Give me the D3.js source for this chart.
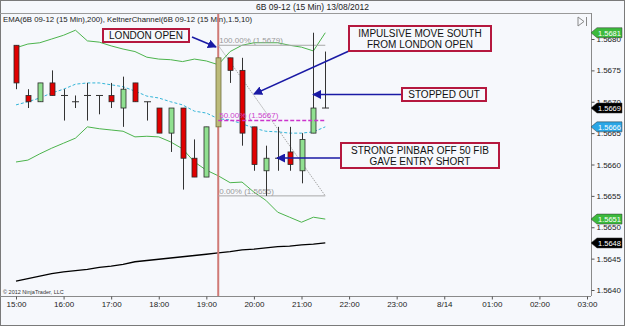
<!DOCTYPE html>
<html><head><meta charset="utf-8">
<script src="https://cdn.jsdelivr.net/npm/d3@7"></script>
<style>
html,body{margin:0;padding:0;background:#f5f7fb;}
svg{display:block;font-family:"Liberation Sans",Arial,sans-serif;}
</style></head>
<body>
<svg id="c" width="625" height="326"></svg>
<script>
// ---- data (15-min bars, 6B 09-12, 13/08/2012) ----
const times = ["15:00","15:15","15:30","15:45","16:00","16:15","16:30","16:45","17:00","17:15","17:30","17:45","18:00","18:15","18:30","18:45","19:00","19:15","19:30","19:45","20:00","20:15","20:30","20:45","21:00","21:15","21:30"];
const open  = [1.5679,1.5671,1.5670,1.5673,1.5671,1.5670,1.5671,1.5671,1.5671,1.5669,1.5673,1.5670,1.5669,1.5665,1.5669,1.5661,1.5658,1.5666,1.5677,1.5675,1.5666,1.5659,1.5661,1.5662,1.5659,1.5665,1.5669];
const high  = [1.5679,1.5672,1.5673,1.5675,1.5672,1.5671,1.5673,1.5671,1.5673,1.5674,1.5673,1.5670,1.5669,1.5669,1.5669,1.5664,1.5666,1.5677,1.5677,1.5677,1.5666,1.5663,1.5666,1.5666,1.5665,1.5681,1.5678];
const low   = [1.5672,1.5669,1.5670,1.5671,1.5667,1.5669,1.5667,1.5668,1.5669,1.5666,1.5670,1.5667,1.5665,1.5662,1.5656,1.5658,1.5658,1.5666,1.5673,1.5663,1.5659,1.5655,1.5659,1.5659,1.5657,1.5665,1.5669];
const close = [1.5673,1.5670,1.5673,1.5671,1.5671,1.5670,1.5671,1.5671,1.5670,1.5672,1.5670,1.5670,1.5665,1.5669,1.5661,1.5658,1.5666,1.5677,1.5675,1.5665,1.5660,1.5661,1.5661,1.5660,1.5664,1.5669,1.5669];
const keltnerUpper = [1.56786,1.56792,1.56794,1.56800,1.56806,1.56814,1.56797,1.56795,1.56789,1.56784,1.56780,1.56771,1.56768,1.56767,1.56764,1.56768,1.56765,1.56759,1.56780,1.56790,1.56794,1.56794,1.56794,1.56790,1.56787,1.56781,1.56810];
const keltnerMid   = [1.56695,1.56700,1.56706,1.56714,1.56720,1.56728,1.56730,1.56730,1.56727,1.56724,1.56717,1.56709,1.56706,1.56700,1.56695,1.56685,1.56682,1.56673,1.56671,1.56665,1.56658,1.56653,1.56652,1.56650,1.56650,1.56652,1.56660];
const keltnerLower = [1.56604,1.56607,1.56617,1.56626,1.56634,1.56642,1.56660,1.56657,1.56655,1.56653,1.56644,1.56645,1.56644,1.56636,1.56625,1.56604,1.56591,1.56582,1.56571,1.56572,1.56556,1.56543,1.56524,1.56516,1.56508,1.56516,1.56513];
const ema200 = [1.56414,1.56418,1.56422,1.56426,1.56429,1.56431,1.56433,1.56436,1.56438,1.56441,1.56445,1.56447,1.56449,1.56451,1.56453,1.56455,1.56457,1.56459,1.56461,1.56464,1.56465,1.56467,1.56469,1.56470,1.56472,1.56473,1.56475];
const highlightBar = "19:15";
const yTicks = [1.5640,1.5645,1.5650,1.5655,1.5660,1.5665,1.5670,1.5675,1.5680];
const xTickLabels = ["15:00","16:00","17:00","18:00","19:00","20:00","21:00","22:00","23:00","8/14","01:00","02:00","03:00"];
const fibHigh = 1.5679, fibLow = 1.5655, fibStart = "19:15", fibEnd = "21:30";
const annotations = [
  {lines:["LONDON OPEN"]},
  {lines:["IMPULSIVE MOVE SOUTH","FROM LONDON OPEN"]},
  {lines:["STOPPED OUT"]},
  {lines:["STRONG PINBAR OFF 50 FIB","GAVE ENTRY SHORT"]}
];

// ---- layout ----
const W=625,H=326, L=1, R=591, T=13, B=296;
const svg=d3.select("#c");
const toDate=s=>{const [h,m]=s.split(":").map(Number);return new Date(2012,7,13,h,m);};
const bars=times.map((t,i)=>({t:toDate(t),lab:t,o:open[i],h:high[i],l:low[i],c:close[i]}));
const x=d3.scaleTime().domain([new Date(2012,7,13,15,0),new Date(2012,7,14,3,0)]).range([16,587]);
const y=d3.scaleLinear().domain([1.5640,1.5680]).range([290,39]);

// background + frames
svg.append("rect").attr("x",0.5).attr("y",0.5).attr("width",W-1).attr("height",H-1).attr("fill","#f6f8fc").attr("stroke","#7a7a7a");
svg.append("line").attr("x1",0).attr("x2",R).attr("y1",T+0.5).attr("y2",T+0.5).attr("stroke","#9a9a9a");
svg.append("line").attr("x1",0).attr("x2",R).attr("y1",B+0.5).attr("y2",B+0.5).attr("stroke","#8a8a8a");
svg.append("line").attr("x1",R+0.5).attr("x2",R+0.5).attr("y1",T).attr("y2",B).attr("stroke","#8a8a8a");

svg.append("text").attr("x",W/2).attr("y",10).attr("text-anchor","middle").attr("font-size",8.5).attr("fill","#222")
  .text("6B 09-12 (15 Min)  13/08/2012");
svg.append("text").attr("x",3).attr("y",22).attr("font-size",7.8).attr("fill","#222")
  .text("EMA(6B 09-12 (15 Min),200), KeltnerChannel(6B 09-12 (15 Min),1.5,10)");

// icon
svg.append("path").attr("d","M578,17 L584,21.5 L578,26 Z").attr("fill","none").attr("stroke","#888");
svg.append("line").attr("x1",586.5).attr("x2",586.5).attr("y1",17).attr("y2",26).attr("stroke","#888");

// y axis
const yAxis=d3.axisRight(y).tickValues(yTicks).tickSize(3).tickFormat(d3.format(".4f"));
const ya=svg.append("g").attr("transform",`translate(${R+0.5},0)`).call(yAxis);
ya.select(".domain").remove();
ya.selectAll("line").attr("stroke","#555");
ya.selectAll("text").attr("font-size",8).attr("fill","#222").attr("x",5).attr("font-family","Liberation Sans, Arial");

// x axis
const xTickDates=xTickLabels.map((s,i)=>new Date(2012,7,13,15+i,0));
const xAxis=d3.axisBottom(x).tickValues(xTickDates).tickSize(3).tickFormat((d,i)=>xTickLabels[i]);
const xa=svg.append("g").attr("transform",`translate(0,${B+0.5})`).call(xAxis);
xa.select(".domain").remove();
xa.selectAll("line").attr("stroke","#555");
xa.selectAll("text").attr("font-size",8).attr("fill","#222").attr("y",5).attr("font-family","Liberation Sans, Arial");

svg.append("text").attr("x",3).attr("y",294).attr("font-size",5.5).attr("fill","#333").text("© 2012 NinjaTrader, LLC");

// plot clip
svg.append("clipPath").attr("id","clip").append("rect").attr("x",L).attr("y",T+1).attr("width",R-L).attr("height",B-T-1);
const g=svg.append("g").attr("clip-path","url(#clip)");

// EMA 200
const line=arr=>d3.line().x((d,i)=>x(bars[i].t)).y(d=>y(d))(arr);
g.append("path").attr("d",line(ema200)).attr("fill","none").attr("stroke","#000").attr("stroke-width",1.3);
// Keltner
g.append("path").attr("d",line(keltnerUpper)).attr("fill","none").attr("stroke","#4cb44c").attr("stroke-width",1);
g.append("path").attr("d",line(keltnerLower)).attr("fill","none").attr("stroke","#4cb44c").attr("stroke-width",1);
g.append("path").attr("d",line(keltnerMid)).attr("fill","none").attr("stroke","#33b5d8").attr("stroke-width",1).attr("stroke-dasharray","3,2");

// London open vertical line
const xLO=x(toDate(highlightBar));
g.append("line").attr("x1",xLO).attr("x2",xLO).attr("y1",T).attr("y2",B).attr("stroke","#d07a76").attr("stroke-width",2);

// fib
const fx1=x(toDate(fibStart)), fx2=x(toDate(fibEnd));
const fibMid=(fibHigh+fibLow)/2;
g.append("line").attr("x1",fx1).attr("x2",fx2).attr("y1",y(fibHigh)).attr("y2",y(fibHigh)).attr("stroke","#a8a8a8");
g.append("line").attr("x1",fx1).attr("x2",fx2).attr("y1",y(fibLow)).attr("y2",y(fibLow)).attr("stroke","#a8a8a8");
g.append("line").attr("x1",fx1).attr("x2",fx2).attr("y1",y(fibHigh)).attr("y2",y(fibLow)).attr("stroke","#a8a8a8").attr("stroke-dasharray","1.5,1");
g.append("text").attr("x",fx1+1).attr("y",y(fibHigh)-2).attr("font-size",8).attr("fill","#999").text(`100.00% (${fibHigh.toFixed(4)})`);
g.append("text").attr("x",fx1+1).attr("y",y(fibLow)-2).attr("font-size",8).attr("fill","#999").text(`0.00% (${fibLow.toFixed(4)})`);

// candles
const bw=5;
bars.forEach(b=>{
  const cx=Math.round(x(b.t))+0.5;
  const gc=g.append("g");
  gc.append("line").attr("x1",cx).attr("x2",cx).attr("y1",y(b.h)).attr("y2",y(b.l)).attr("stroke","#333").attr("stroke-width",1);
  if(Math.abs(b.c-b.o)<1e-7){
    gc.append("line").attr("x1",cx-3.5).attr("x2",cx+3.5).attr("y1",y(b.c)).attr("y2",y(b.c)).attr("stroke","#333");
  } else {
    const hl=b.lab===highlightBar;
    const up=b.c>b.o;
    gc.append("rect").attr("x",cx-bw/2).attr("width",bw)
      .attr("y",y(Math.max(b.o,b.c))).attr("height",Math.abs(y(b.o)-y(b.c)))
      .attr("fill",hl?"#bcbb7a":(up?"#90e090":"#e00000")).attr("stroke",hl?"#6f6e3c":"#2a2a2a").attr("stroke-width",0.8);
  }
});

// 50% fib line on top
g.append("line").attr("x1",fx1).attr("x2",fx2).attr("y1",y(fibMid)).attr("y2",y(fibMid)).attr("stroke","#cc33cc").attr("stroke-width",1.5).attr("stroke-dasharray","4,2");
g.append("text").attr("x",fx1+1).attr("y",y(fibMid)-3).attr("font-size",8).attr("fill","#cc44cc").text(`50.00% (${fibMid.toFixed(4)})`);

// annotations
svg.append("defs").append("marker").attr("id","ah").attr("viewBox","0 0 10 10").attr("refX",9).attr("refY",5)
  .attr("markerWidth",6).attr("markerHeight",6).attr("orient","auto")
  .append("path").attr("d","M0,0 L10,5 L0,10 Z").attr("fill","#1a1aa5");
const boxes=[
  {x0:103,y0:29,x1:189,y1:42, ax:[192,37,216,47]},
  {x0:349,y0:26,x1:491,y1:51, ax:[349,51,254,94]},
  {x0:402,y0:88,x1:486,y1:101, ax:[402,94.5,313,94.5]},
  {x0:341,y0:143,x1:499,y1:168, ax:[341,158,277,158]}
];
annotations.forEach((a,i)=>{
  const bx=boxes[i];
  svg.append("line").attr("x1",bx.ax[0]).attr("y1",bx.ax[1]).attr("x2",bx.ax[2]).attr("y2",bx.ax[3])
    .attr("stroke","#1a1aa5").attr("stroke-width",1.5).attr("marker-end","url(#ah)");
  svg.append("rect").attr("x",bx.x0).attr("y",bx.y0).attr("width",bx.x1-bx.x0).attr("height",bx.y1-bx.y0)
    .attr("fill","#f6f8fc").attr("stroke","#b5183e").attr("stroke-width",2);
  const cxm=(bx.x0+bx.x1)/2, n=a.lines.length, cy=(bx.y0+bx.y1)/2;
  a.lines.forEach((t,k)=>{
    svg.append("text").attr("x",cxm).attr("y",cy+(k-(n-1)/2)*11+3.6).attr("text-anchor","middle")
      .attr("font-size",10).attr("fill","#111").text(t);
  });
});

// price markers on axis
const last=bars.length-1;
const markers=[
  {v:keltnerUpper[last],fill:"#3cba3c"},
  {v:close[last],fill:"#000"},
  {v:keltnerMid[last],fill:"#2aa6e6"},
  {v:keltnerLower[last],fill:"#3cba3c"},
  {v:ema200[last],fill:"#000"}
];
markers.forEach(m=>{
  const yc=y(m.v);
  svg.append("path").attr("d",`M${R},${yc} L${R+6},${yc-5} L622,${yc-5} L622,${yc+5} L${R+6},${yc+5} Z`)
    .attr("fill",m.fill).attr("stroke","#333").attr("stroke-width",0.5);
  svg.append("text").attr("x",R+7).attr("y",yc+3).attr("font-size",7.5).attr("fill","#fff").text(m.v.toFixed(4));
});
</script>
</body></html>
